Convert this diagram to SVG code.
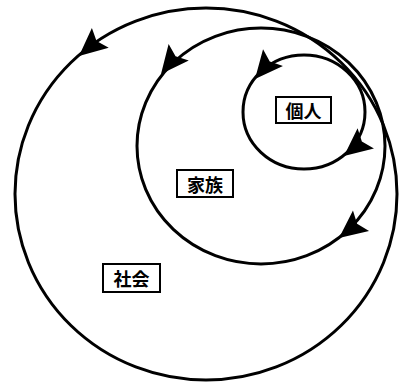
<svg xmlns="http://www.w3.org/2000/svg" width="399" height="386" viewBox="0 0 399 386">
<style>
.loop{fill:none;stroke:#000;stroke-width:3}
.box{fill:#fff;stroke:#000;stroke-width:2}
.lbl{font-family:"Noto Sans CJK JP","Noto Sans CJK SC",sans-serif;font-size:18px;font-weight:bold;fill:#000;text-anchor:middle;dominant-baseline:central}
</style>
<defs>
<path id="ah" d="M0,0 L-28,-13 L-23,0 L-28,13 Z" fill="#000"/>
</defs>
<rect width="399" height="386" fill="#fff"/>
<g id="connectors">
<ellipse class="loop" cx="206" cy="194" rx="191" ry="186"/>
<ellipse class="loop" cx="261" cy="146" rx="124" ry="118"/>
<ellipse class="loop" cx="304" cy="112" rx="61" ry="57"/>
<use href="#ah" transform="translate(79,56) rotate(139.6)"/>
<use href="#ah" transform="translate(161,74) rotate(129.2)"/>
<use href="#ah" transform="translate(255,79) rotate(130)"/>
<use href="#ah" transform="translate(344,156) rotate(141)"/>
<use href="#ah" transform="translate(339,238) rotate(141.8)"/>
</g>
<g id="kojin">
<rect class="box" x="276" y="97" width="55" height="26"/>
<text class="lbl" x="303.5" y="110">個人</text>
</g>
<g id="kazoku">
<rect class="box" x="177" y="170" width="56" height="27"/>
<text class="lbl" x="205" y="183.5">家族</text>
</g>
<g id="shakai">
<rect class="box" x="103" y="264" width="57" height="28"/>
<text class="lbl" x="131.5" y="278">社会</text>
</g>
</svg>
